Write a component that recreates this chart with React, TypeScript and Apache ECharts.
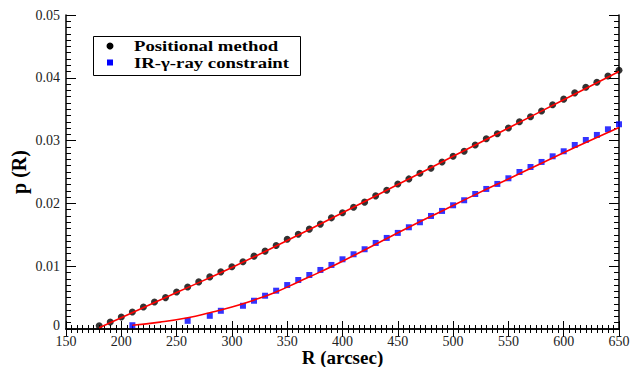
import React, { useEffect, useRef } from "react";
import * as echarts from "echarts";

// Radius values (arcsec) and measured p(R) for each method
const posR = [180, 190, 200, 210, 220, 230, 240, 250, 260, 270, 280, 290, 300, 310, 320, 330, 340, 350, 360, 370, 380, 390, 400, 410, 420, 430, 440, 450, 460, 470, 480, 490, 500, 510, 520, 530, 540, 550, 560, 570, 580, 590, 600, 610, 620, 630, 640, 650];
const posP = [0.0005, 0.0011, 0.0019, 0.0027, 0.0035, 0.0043, 0.0050, 0.0059, 0.0067, 0.0075, 0.0083, 0.0091, 0.0099, 0.0107, 0.0116, 0.0124, 0.0133, 0.0143, 0.0151, 0.0159, 0.0167, 0.0177, 0.0185, 0.0194, 0.0202, 0.0212, 0.0221, 0.0231, 0.0239, 0.0248, 0.0256, 0.0266, 0.0275, 0.0283, 0.0293, 0.0303, 0.0311, 0.0320, 0.0330, 0.0338, 0.0347, 0.0357, 0.0366, 0.0376, 0.0385, 0.0393, 0.0403, 0.0412];

const irR = [210, 260, 280, 290, 310, 320, 330, 340, 350, 360, 370, 380, 390, 400, 410, 420, 430, 440, 450, 460, 470, 480, 490, 500, 510, 520, 530, 540, 550, 560, 570, 580, 590, 600, 610, 620, 630, 640, 650];
const irP = [0.0006, 0.0013, 0.0021, 0.0029, 0.0037, 0.0045, 0.0053, 0.0061, 0.0070, 0.0078, 0.0086, 0.0094, 0.0102, 0.0111, 0.0119, 0.0127, 0.0137, 0.0145, 0.0153, 0.0162, 0.0170, 0.0180, 0.0188, 0.0197, 0.0205, 0.0215, 0.0223, 0.0231, 0.0240, 0.0250, 0.0258, 0.0266, 0.0275, 0.0283, 0.0293, 0.0301, 0.0309, 0.0318, 0.0326];

// Fitted curves
const posFitR = [180, 250, 300, 350, 400, 450, 500, 550, 600, 650];
const posFitP = [0.0002, 0.0058, 0.0098, 0.0141, 0.0185, 0.0230, 0.0275, 0.0320, 0.0365, 0.0410];

const irFitR = [210, 235, 260, 280, 300, 320, 340, 360, 380, 400, 430, 460, 490, 520, 550, 580, 610, 650];
const irFitP = [0.0006, 0.0011, 0.0018, 0.0026, 0.0035, 0.0046, 0.0059, 0.0075, 0.0091, 0.0108, 0.0135, 0.0162, 0.0188, 0.0214, 0.0239, 0.0264, 0.0289, 0.0321];

const seriesNames = ["Positional method", "IR-γ-ray constraint"];

const xTicks = { min: 150, max: 650, interval: 50 };
const yTicks = { min: 0, max: 0.05, interval: 0.01 };

const pair = (xs: number[], ys: number[]) => xs.map((x, i) => [x, ys[i]]);

const FONT = "'Liberation Serif', 'Times New Roman', serif";
const BLACK = "#000";
const BLUE = "#0000ff";
const RED = "#ff0000";

export default function App() {
  const ref = useRef<HTMLDivElement>(null);

  useEffect(() => {
    if (!ref.current) return;
    const chart = echarts.init(ref.current, null, { renderer: "svg" });

    const axisLine = { show: true, lineStyle: { color: "#000", width: 1.5 } };
    const xTick = { show: true, inside: true, length: 8, lineStyle: { color: "#000", width: 1 } };
    const xMinor = { show: true, splitNumber: 10, length: 4, lineStyle: { color: "#000", width: 1 } };
    const yTick = { show: true, inside: true, length: 10, lineStyle: { color: "#000", width: 1 } };
    const yMinor = { show: true, splitNumber: 10, length: 5, lineStyle: { color: "#000", width: 1 } };
    const labelStyle = { fontFamily: FONT, fontSize: 14, lineHeight: 12, color: "#222" };

    // Boxed key in the upper-left corner, text widened like the rest of the figure
    const keyText = (y: number, text: string) => ({
      type: "text",
      x: 134,
      y,
      scaleX: 1.25,
      z: 100,
      style: {
        text,
        fontFamily: FONT,
        fontWeight: "bold",
        fontSize: 15,
        fill: "#000",
        align: "left",
        verticalAlign: "middle",
      },
    });

    chart.setOption({
      animation: false,
      backgroundColor: "#fff",
      grid: { left: 66, right: 12, top: 15, bottom: 38, containLabel: false, outerBoundsMode: "none" },
      graphic: [
        {
          type: "rect",
          z: 99,
          shape: { x: 93.5, y: 36.5, width: 207, height: 39 },
          style: { fill: "#fff", stroke: "#000", lineWidth: 1 },
        },
        { type: "circle", z: 100, shape: { cx: 110, cy: 46, r: 3.5 }, style: { fill: BLACK } },
        { type: "rect", z: 100, shape: { x: 107, y: 59.5, width: 6, height: 6 }, style: { fill: BLUE } },
        keyText(46, seriesNames[0]),
        keyText(63, seriesNames[1]),
      ],
      xAxis: [
        {
          type: "value",
          ...xTicks,
          name: "R (arcsec)",
          nameLocation: "middle",
          nameGap: 19,
          nameMoveOverlap: false,
          nameTextStyle: { fontFamily: FONT, fontWeight: "bold", fontSize: 19, lineHeight: 19, color: "#000" },
          axisLine,
          axisTick: xTick,
          minorTick: xMinor,
          splitLine: { show: false },
          axisLabel: { ...labelStyle, margin: 6 },
        },
        {
          type: "value",
          position: "top",
          ...xTicks,
          axisLine,
          axisTick: xTick,
          minorTick: xMinor,
          splitLine: { show: false },
          axisLabel: { show: false },
        },
      ],
      yAxis: [
        {
          type: "value",
          ...yTicks,
          name: "p (R)",
          nameLocation: "middle",
          nameGap: 37,
          nameMoveOverlap: false,
          nameTextStyle: { fontFamily: FONT, fontWeight: "bold", fontSize: 20, color: "#000" },
          axisLine,
          axisTick: yTick,
          minorTick: yMinor,
          splitLine: { show: false },
          axisLabel: {
            ...labelStyle,
            margin: 6,
            // the zero label sits a little higher so it clears the first x label
            formatter: (v: number) => (v === 0 ? "{zero|0}" : v.toFixed(2)),
            rich: {
              zero: {
                fontFamily: FONT,
                fontSize: 14,
                lineHeight: 12,
                color: "#222",
                padding: [0, 0, 8, 0],
              },
            },
          },
        },
        {
          type: "value",
          position: "right",
          ...yTicks,
          axisLine,
          axisTick: yTick,
          minorTick: yMinor,
          splitLine: { show: false },
          axisLabel: { show: false },
        },
      ],
      series: [
        {
          name: seriesNames[0],
          type: "scatter",
          symbol: "circle",
          symbolSize: 7,
          itemStyle: { color: BLACK },
          data: pair(posR, posP),
          z: 2,
        },
        {
          name: seriesNames[1],
          type: "scatter",
          symbol: "rect",
          symbolSize: 6,
          itemStyle: { color: BLUE },
          data: pair(irR, irP),
          z: 2,
        },
        {
          name: "fit-positional",
          type: "line",
          smooth: true,
          showSymbol: false,
          symbol: "none",
          lineStyle: { color: RED, width: 1.6 },
          data: pair(posFitR, posFitP),
          z: 3,
        },
        {
          name: "fit-ir",
          type: "line",
          smooth: true,
          showSymbol: false,
          symbol: "none",
          lineStyle: { color: RED, width: 1.6 },
          data: pair(irFitR, irFitP),
          z: 3,
        },
      ],
    });

    return () => chart.dispose();
  }, []);

  return <div ref={ref} style={{ width: 631, height: 367, position: "absolute", left: 0, top: 0 }} />;
}
